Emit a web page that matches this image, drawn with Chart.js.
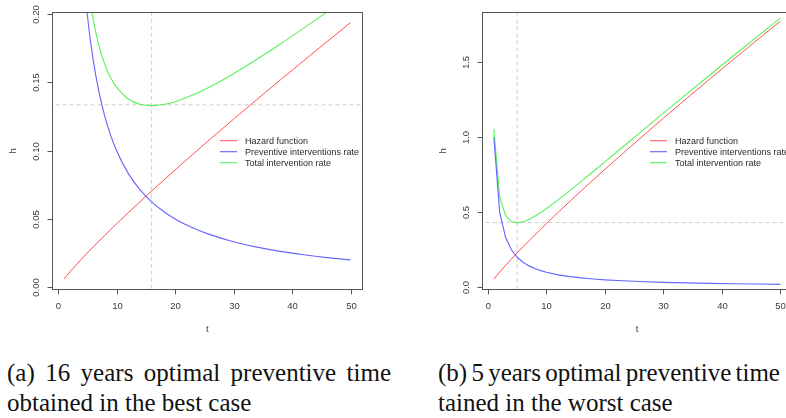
<!DOCTYPE html>
<html>
<head>
<meta charset="utf-8">
<script src="https://cdn.jsdelivr.net/npm/chart.js@4.4.1/dist/chart.umd.min.js"></script>
<style>
  html, body { margin: 0; padding: 0; background: #fff; width: 786px; height: 418px; overflow: hidden; }
  body { position: relative; }
  canvas { position: absolute; top: 0; }
  #graficaMejor { left: 0; }
  #graficaPeor { left: 400px; }
  .caption { position: absolute; font-family: "Liberation Serif", "Times New Roman", serif; font-size: 25px; line-height: 30px; color: #111; white-space: nowrap; }
  .just { white-space: normal; text-align: justify; text-align-last: justify; }
</style>
</head>
<body>
<canvas id="graficaMejor" width="400" height="340"></canvas>
<canvas id="graficaPeor" width="420" height="340"></canvas>
<div class="caption just" style="left:7px; top:358px; width:384px;">(a) 16 years optimal preventive time</div>
<div class="caption" style="left:7px; top:388px;">obtained in the best case</div>
<div class="caption" style="left:438px; top:358px; word-spacing:-2px;">(b) 5 years optimal preventive time</div>
<div class="caption" style="left:438px; top:388px;">tained in the worst case</div>
<script>
// DATA
const tYears = [1, 2, 3, 4, 5, 6, 7, 8, 9, 10, 12, 14, 16, 18, 20, 23, 26, 30, 34, 38, 42, 46, 50];

// best case
const hazardBest = [0.0060, 0.0111, 0.0159, 0.0205, 0.0251, 0.0295, 0.0338, 0.0380, 0.0422, 0.0464, 0.0545, 0.0625,
  0.0704, 0.0781, 0.0858, 0.0971, 0.1083, 0.1230, 0.1374, 0.1517, 0.1658, 0.1798, 0.1936];
const preventiveBest = [1.0, 0.5, 0.3333, 0.25, 0.2, 0.1667, 0.1429, 0.125, 0.1111, 0.1, 0.0833, 0.0714,
  0.0625, 0.0556, 0.05, 0.0435, 0.0385, 0.0333, 0.0294, 0.0263, 0.0238, 0.0217, 0.02];
const totalBest = [1.006, 0.5111, 0.3492, 0.2705, 0.2251, 0.1962, 0.1767, 0.1630, 0.1533, 0.1464, 0.1378, 0.1339,
  0.1329, 0.1337, 0.1358, 0.1406, 0.1468, 0.1563, 0.1668, 0.1780, 0.1896, 0.2015, 0.2136];
const optimalTBest = 16;
const optimalHBest = 0.1335;

// worst case
const hazardWorst = [0.0550, 0.1018, 0.1459, 0.1884, 0.2296, 0.2700, 0.3096, 0.3486, 0.3870, 0.4250, 0.4997, 0.5730,
  0.6452, 0.7163, 0.7865, 0.8904, 0.9928, 1.1274, 1.2598, 1.3907, 1.5200, 1.6478, 1.7744];
const preventiveWorst = preventiveBest;
const totalWorst = [1.0550, 0.6018, 0.4792, 0.4384, 0.4296, 0.4367, 0.4525, 0.4736, 0.4981, 0.5250, 0.5830, 0.6444,
  0.7077, 0.7719, 0.8365, 0.9339, 1.0313, 1.1607, 1.2892, 1.4170, 1.5438, 1.6695, 1.7944];
const optimalTWorst = 5;
const optimalHWorst = 0.432;

const xTicks = [0, 10, 20, 30, 40, 50];
const yTicksBest = ["0.00", "0.05", "0.10", "0.15", "0.20"];
const yTicksWorst = ["0.0", "0.5", "1.0", "1.5"];
const legendLabels = ["Hazard function", "Preventive interventions rate", "Total intervention rate"];

const colores = ["rgba(255,50,50,0.85)", "rgba(70,70,255,0.82)", "rgba(60,240,60,0.85)"];
const grosores = [1, 1.15, 1.1];
const fuente = '"Liberation Sans", Arial, sans-serif';

function puntos(xs, ys) {
  return xs.map((t, i) => ({ x: t, y: ys[i] }));
}

function linea(datos, i, suave) {
  return {
    data: datos, borderColor: colores[i], borderWidth: grosores[i],
    pointRadius: 0, clip: 0, cubicInterpolationMode: suave ? 'monotone' : 'default', tension: 0
  };
}

function guia(datos) {
  return { data: datos, borderColor: "#cfcfcf", borderWidth: 1, borderDash: [4, 3], pointRadius: 0, clip: 0 };
}

// ejes al estilo R: caja, marcas, etiquetas giradas y leyenda sin borde
function ejesR(cfg) {
  return {
    id: 'ejesR',
    afterDraw(chart) {
      const { ctx, chartArea: a, scales: { x, y } } = chart;
      const izq = Math.round(a.left) + 0.5, der = Math.round(a.right) + 0.5;
      const arr = Math.round(a.top) + 0.5, aba = Math.round(a.bottom) + 0.5;
      ctx.save();
      ctx.strokeStyle = "#555";
      ctx.lineWidth = 1;
      ctx.strokeRect(izq, arr, der - izq, aba - arr);

      ctx.fillStyle = "#3a3a3a";
      ctx.font = "9.5px " + fuente;
      ctx.textAlign = "center";
      ctx.textBaseline = "middle";
      xTicks.forEach(v => {
        const px = Math.round(x.getPixelForValue(v)) + 0.5;
        ctx.beginPath(); ctx.moveTo(px, aba); ctx.lineTo(px, aba + 5); ctx.stroke();
        ctx.fillText(String(v), px, a.bottom + 17);
      });
      cfg.yTicks.forEach(label => {
        const py = Math.round(y.getPixelForValue(parseFloat(label))) + 0.5;
        ctx.beginPath(); ctx.moveTo(izq - 5, py); ctx.lineTo(izq, py); ctx.stroke();
        ctx.save();
        ctx.translate(a.left - 16, py);
        ctx.rotate(-Math.PI / 2);
        ctx.fillText(label, 0, 0);
        ctx.restore();
      });

      ctx.fillText("t", (a.left + a.right) / 2, a.bottom + 40);
      ctx.save();
      ctx.translate(a.left - 39, (a.top + a.bottom) / 2);
      ctx.rotate(-Math.PI / 2);
      ctx.fillText("h", 0, 0);
      ctx.restore();

      // leyenda
      ctx.font = "9px " + fuente;
      ctx.textAlign = "left";
      legendLabels.forEach((texto, i) => {
        const py = cfg.legendY + i * 11;
        ctx.strokeStyle = colores[i];
        ctx.lineWidth = grosores[i];
        ctx.beginPath(); ctx.moveTo(cfg.legendX, py); ctx.lineTo(cfg.legendX + 17, py); ctx.stroke();
        ctx.fillStyle = "#2a2a2a";
        ctx.fillText(texto, cfg.legendX + 25, py + 0.5);
      });
      ctx.restore();
    }
  };
}

function crearGrafica(id, cfg) {
  new Chart(document.getElementById(id), {
    type: 'line',
    data: {
      datasets: [
        linea(puntos(tYears, cfg.hazard), 0, cfg.suave),
        linea(puntos(tYears, cfg.preventive), 1, cfg.suave),
        linea(puntos(tYears, cfg.total), 2, cfg.suave),
        guia([{ x: cfg.tOpt, y: -10 }, { x: cfg.tOpt, y: 10 }]),
        guia([{ x: -10, y: cfg.hOpt }, { x: 100, y: cfg.hOpt }])
      ]
    },
    options: {
      responsive: false,
      animation: false,
      devicePixelRatio: 1,
      layout: { padding: cfg.padding },
      plugins: { legend: { display: false }, tooltip: { enabled: false } },
      scales: {
        x: { type: 'linear', display: false, min: -0.96, max: 51.96 },
        y: { type: 'linear', display: false, min: cfg.yMin, max: cfg.yMax }
      }
    },
    plugins: [ejesR(cfg)]
  });
}

crearGrafica("graficaMejor", {
  hazard: hazardBest, preventive: preventiveBest, total: totalBest,
  tOpt: optimalTBest, hOpt: optimalHBest, suave: true,
  yMin: -0.0015, yMax: 0.2012, yTicks: yTicksBest,
  padding: { left: 52.4, top: 12.3, right: 38, bottom: 50.7 },
  legendX: 220, legendY: 140.7
});

crearGrafica("graficaPeor", {
  hazard: hazardWorst, preventive: preventiveWorst, total: totalWorst,
  tOpt: optimalTWorst, hOpt: optimalHWorst, suave: false,
  yMin: -0.0133, yMax: 1.8333, yTicks: yTicksWorst,
  padding: { left: 82.4, top: 12.3, right: 28.2, bottom: 50.7 },
  legendX: 250, legendY: 140.7
});
</script>
</body>
</html>
